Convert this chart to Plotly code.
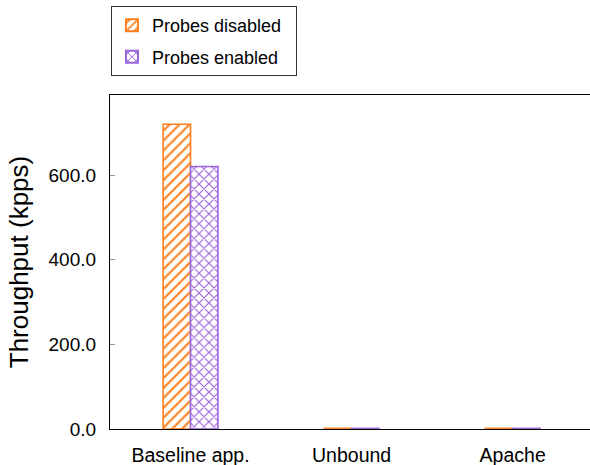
import plotly.graph_objects as go

categories = ["Baseline app.", "Unbound", "Apache"]
probes_disabled = [720.0, 1.5, 1.5]
probes_enabled = [620.0, 1.5, 1.5]
y_tick_values = [0, 200, 400, 600]
y_tick_labels = ["0.0", "200.0", "400.0", "600.0"]

ORANGE = "#ff7f1e"
PURPLE = "#9966dd"
FONT = "Liberation Sans"

fig = go.Figure()
fig.add_trace(go.Bar(
    x=categories, y=probes_disabled, name="Probes disabled\u2002",
    legendgroup="off",
    marker=dict(color="white", line=dict(color=ORANGE, width=1.6),
                pattern=dict(shape="/", fgcolor=ORANGE, bgcolor="white",
                             fgopacity=1, size=7, solidity=0.3)),
))
fig.add_trace(go.Bar(
    x=categories, y=probes_enabled, name="Probes enabled",
    legendgroup="on",
    marker=dict(color="white", line=dict(color=PURPLE, width=1.6),
                pattern=dict(shape="x", fgcolor=PURPLE, bgcolor="white",
                             fgopacity=1, size=7, solidity=0.3)),
))

fig.update_layout(
    width=590, height=465,
    margin=dict(l=110, r=0, t=95, b=36),
    paper_bgcolor="white", plot_bgcolor="white",
    barmode="group", bargap=0.66, bargroupgap=0.0,
    font=dict(family=FONT, size=19, color="black"),
    showlegend=True,
    legend=dict(
        x=0.002, y=1.266, xanchor="left", yanchor="top",
        bordercolor="#333333", borderwidth=1, bgcolor="white",
        font=dict(family=FONT, size=18), tracegroupgap=5,
        itemsizing="constant",
    ),
)
fig.update_xaxes(
    range=[-0.5, 2.48],
    showline=True, linecolor="black", linewidth=1.2, mirror=True,
    ticks="", showgrid=False, zeroline=False,
    tickfont=dict(family=FONT, size=19.5),
    ticklabelstandoff=8,
)
fig.update_yaxes(
    range=[0, 789],
    tickvals=y_tick_values, ticktext=y_tick_labels,
    showline=True, linecolor="black", linewidth=1.2, mirror=False,
    ticks="inside", ticklen=5, tickcolor="#999999", tickwidth=1,
    showgrid=False, zeroline=False,
    tickfont=dict(family=FONT, size=19),
    ticklabelstandoff=9,
    title=dict(text="Throughput (kpps)", font=dict(family=FONT, size=26), standoff=12),
)

fig.write_html("out.html")
